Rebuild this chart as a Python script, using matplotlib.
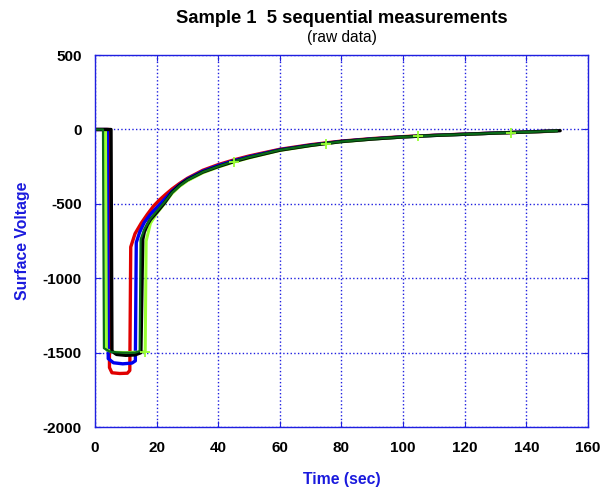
import matplotlib
matplotlib.use("Agg")
import matplotlib.pyplot as plt

plt.rcParams['font.family'] = ['Liberation Sans', 'DejaVu Sans']
plt.rcParams['axes.unicode_minus'] = False

# time (sec) and surface voltage for the 5 runs
t_red = [0, 4.5, 4.7, 5.5, 8, 10.5, 11.3, 11.6, 13, 15, 17, 19, 21, 23, 25, 27.5, 30,
         35, 40, 45, 50, 60, 70, 80, 90, 100, 110, 120, 130, 140, 149]
v_red = [0, 0, -1600, -1635, -1640, -1638, -1620, -790, -700, -630, -570, -515, -472, -435,
         -400, -362, -328, -274, -236, -205, -178, -133, -102, -78, -61, -48, -39, -31, -24, -17, -11]

t_blue = [0, 4.0, 4.3, 6, 9, 12, 13.1, 13.4, 14.5, 16, 18, 20, 22.5, 25, 27.5, 30,
          35, 40, 45, 50, 60, 70, 80, 90, 100, 110, 120, 130, 140, 150]
v_blue = [0, 0, -1540, -1568, -1575, -1570, -1555, -760, -690, -625, -570, -525, -470, -415,
          -370, -333, -280, -242, -210, -183, -136, -105, -80, -63, -50, -40, -32, -24, -17, -9]

t_dkgreen = [0, 2.6, 2.9, 5, 9, 13, 14.5, 14.8, 16, 18, 20, 22.5, 25, 27.5, 30,
             35, 40, 45, 50, 60, 70, 80, 90, 100, 110, 120, 130, 140, 150]
v_dkgreen = [0, 0, -1470, -1495, -1500, -1500, -1490, -740, -670, -600, -550, -490, -425, -378,
             -340, -286, -248, -214, -186, -138, -106, -81, -63, -50, -40, -32, -24, -17, -9]

t_ltgreen = [0, 3.4, 3.7, 6, 10, 15.5, 16.3, 16.6, 18, 20, 22.5, 25, 27.5, 30, 35, 40, 45,
             50, 60, 70, 75, 80, 90, 100, 105, 110, 120, 130, 135, 140, 150]
v_ltgreen = [0, 0, -1480, -1497, -1500, -1495, -1495, -750, -630, -565, -500, -430, -382, -345,
             -291, -253, -219, -191, -141, -109, -95, -83, -65, -51, -45, -41, -33, -25, -21, -18, -10]
ltgreen_marks = [16.3, 45, 75, 105, 135]

t_black = [0, 5.2, 5.5, 7, 10, 13, 14.9, 15.5, 16, 17, 18, 20, 22.5, 25, 27.5, 30,
           35, 40, 45, 50, 60, 70, 80, 90, 100, 110, 120, 130, 140, 151]
v_black = [0, 0, -1490, -1512, -1518, -1515, -1500, -740, -690, -640, -605, -558, -495, -422,
           -374, -338, -286, -249, -216, -188, -139, -107, -81, -64, -50, -40, -32, -24, -17, -8]

fig = plt.figure(figsize=(6.07, 4.92), dpi=100)
ax = fig.add_axes([0.1565, 0.132, 0.812, 0.756])

kw = dict(solid_joinstyle='round', solid_capstyle='round')
ax.plot(t_red, v_red, color='#e00000', lw=2.4, **kw)
ax.plot(t_blue, v_blue, color='#0000ee', lw=2.4, **kw)
ax.plot(t_ltgreen, v_ltgreen, color='#99ff33', lw=2.2, **kw)
ax.plot(t_black, v_black, color='black', lw=2.4, **kw)
ax.plot(t_dkgreen, v_dkgreen, color='#0b6b1a', lw=1.6, **kw)
# the '+' marks of the light green run sit on top of everything
mark_idx = [t_ltgreen.index(m) for m in ltgreen_marks]
ax.plot(t_ltgreen, v_ltgreen, ls='none', color='#99ff33', marker='+', ms=7, mew=1.3,
        markevery=mark_idx)

ax.set_xlim(0, 160)
ax.set_ylim(-2000, 500)
ax.set_xticks(range(0, 161, 20))
ax.set_yticks(range(-2000, 501, 500))

blue = '#1f1fe0'
ax.grid(True, color=blue, linestyle=':', linewidth=1.0)
for sp in ax.spines.values():
    sp.set_color(blue)
    sp.set_linewidth(1.0)
ax.tick_params(direction='in', length=4, color=blue, top=True, right=True, labelsize=11)
ax.tick_params(axis='x', pad=10)
ax.tick_params(axis='y', pad=9.5)
for lab in ax.get_xticklabels() + ax.get_yticklabels():
    lab.set_fontweight('bold')

ax.set_xlabel('Time (sec)', color='#1a1add', fontsize=11.3, fontweight='bold', labelpad=12)
ax.set_ylabel('Surface Voltage', color='#1a1add', fontsize=11.3, fontweight='bold', labelpad=9)

fig.text(0.5628, 0.963, 'Sample 1  5 sequential measurements', ha='center', va='center',
         fontsize=13.2, fontweight='bold')
fig.text(0.5628, 0.923, '(raw data)', ha='center', va='center', fontsize=11.2)

fig.savefig('out.png', dpi=100)
